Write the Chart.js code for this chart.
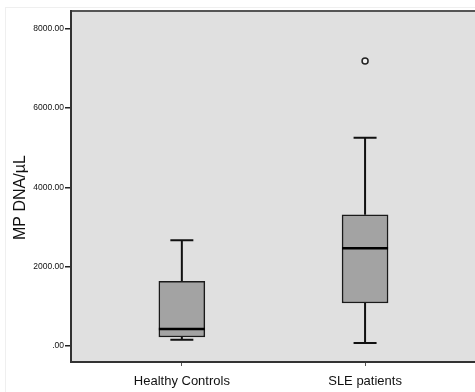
<!DOCTYPE html>
<html>
<head>
<meta charset="utf-8">
<script src="https://cdn.jsdelivr.net/npm/chart.js@4/dist/chart.umd.min.js"></script>
<style>
  html, body { margin: 0; padding: 0; background: #ffffff; overflow: hidden; }
  canvas { display: block; }
</style>
</head>
<body>
<canvas id="box-chart" width="475" height="392"></canvas>
<script>
// Box plot data (MP DNA per uL)
const categories = ['Healthy Controls', 'SLE patients'];
const whiskerLow = [152, 68];
const q1 = [220, 1078];
const median = [422, 2460];
const q3 = [1626, 3308];
const whiskerHigh = [2662, 5252];
const outliers = [[], [7189]];
const yTicks = [0, 2000, 4000, 6000, 8000];

// Build the datasets
const boxData = categories.map((c, i) => ({ x: i, y: [q1[i], q3[i]] }));
const outlierData = [];
outliers.forEach((list, i) => {
    list.forEach(v => outlierData.push({ x: i, y: v }));
});

// Plot background, frame, whiskers and medians
const boxPlotPlugin = {
    id: 'boxPlotPlugin',
    beforeDraw(chart) {
        const { ctx, chartArea } = chart;
        ctx.save();
        ctx.fillStyle = '#e0e0e0';
        ctx.fillRect(chartArea.left, chartArea.top, chartArea.right - chartArea.left, chartArea.bottom - chartArea.top);
        // faint outer frame of the figure
        ctx.strokeStyle = '#efefef';
        ctx.lineWidth = 1;
        ctx.strokeRect(5.5, 7.5, 480, 400);
        // top border of the plot
        ctx.strokeStyle = '#555555';
        ctx.lineWidth = 2;
        ctx.beginPath();
        ctx.moveTo(chartArea.left, chartArea.top);
        ctx.lineTo(chartArea.right, chartArea.top);
        ctx.stroke();
        ctx.restore();
    },
    beforeDatasetsDraw(chart) {
        const { ctx, scales } = chart;
        const x = scales.x, y = scales.y;
        ctx.save();
        ctx.strokeStyle = '#111111';
        ctx.lineWidth = 2;
        categories.forEach((c, i) => {
            const cx = x.getPixelForValue(i);
            ctx.beginPath();
            ctx.moveTo(cx, y.getPixelForValue(q3[i]));
            ctx.lineTo(cx, y.getPixelForValue(whiskerHigh[i]));
            ctx.moveTo(cx, y.getPixelForValue(q1[i]));
            ctx.lineTo(cx, y.getPixelForValue(whiskerLow[i]));
            // caps
            ctx.moveTo(cx - 11.5, y.getPixelForValue(whiskerHigh[i]));
            ctx.lineTo(cx + 11.5, y.getPixelForValue(whiskerHigh[i]));
            ctx.moveTo(cx - 11.5, y.getPixelForValue(whiskerLow[i]));
            ctx.lineTo(cx + 11.5, y.getPixelForValue(whiskerLow[i]));
            ctx.stroke();
        });
        ctx.restore();
    },
    afterDatasetsDraw(chart) {
        const { ctx, scales } = chart;
        const x = scales.x, y = scales.y;
        ctx.save();
        ctx.strokeStyle = '#000000';
        ctx.lineWidth = 2.5;
        categories.forEach((c, i) => {
            const cx = x.getPixelForValue(i);
            const my = y.getPixelForValue(median[i]);
            ctx.beginPath();
            ctx.moveTo(cx - 23, my);
            ctx.lineTo(cx + 23, my);
            ctx.stroke();
        });
        ctx.restore();
    }
};

const ctx = document.getElementById('box-chart');

new Chart(ctx, {
    type: 'bar',
    data: {
        datasets: [{
            label: 'IQR',
            data: boxData,
            backgroundColor: '#a3a3a3',
            borderColor: '#1a1a1a',
            borderWidth: 1.5,
            borderSkipped: false,
            barThickness: 46,
            order: 2
        }, {
            type: 'scatter',
            label: 'Outliers',
            data: outlierData,
            pointRadius: 3,
            pointBorderWidth: 1.5,
            pointBorderColor: '#222222',
            pointBackgroundColor: '#f2f2f2',
            order: 1
        }]
    },
    options: {
        responsive: false,
        animation: false,
        // plot runs off the right edge in the original, so push the area past it
        layout: { autoPadding: false, padding: { left: 7, top: 11, right: -4, bottom: 0 } },
        plugins: {
            legend: { display: false },
            tooltip: { enabled: false }
        },
        scales: {
            x: {
                type: 'linear',
                offset: false,
                min: -0.605,
                max: 1.600,
                afterBuildTicks(scale) {
                    scale.ticks = categories.map((c, i) => ({ value: i }));
                },
                afterFit(scale) {
                    scale.height = 30;
                },
                ticks: {
                    callback: (v) => categories[v],
                    color: '#111111',
                    padding: 8,
                    maxRotation: 0,
                    font: { family: "'Liberation Sans', Arial, sans-serif", size: 13 }
                },
                grid: {
                    drawOnChartArea: false,
                    offset: false,
                    tickLength: 4,
                    color: '#555555'
                },
                border: { color: '#333333', width: 2 }
            },
            y: {
                min: -412,
                max: 8454,
                afterBuildTicks(scale) {
                    scale.ticks = yTicks.map(v => ({ value: v }));
                },
                afterFit(scale) {
                    scale.width = 64;
                },
                ticks: {
                    callback: (v) => v === 0 ? '.00' : v.toFixed(2),
                    color: '#111111',
                    padding: 1,
                    font: { family: "'Liberation Sans', Arial, sans-serif", size: 8.5 }
                },
                grid: {
                    drawOnChartArea: false,
                    tickLength: 6,
                    color: '#222222',
                    lineWidth: 1.5
                },
                border: { color: '#333333', width: 2 },
                title: {
                    display: true,
                    // trailing spaces nudge the centred title down like the original
                    text: 'MP DNA/µL     ',
                    color: '#111111',
                    padding: { top: 4, bottom: 4 },
                    font: { family: "'Liberation Sans', Arial, sans-serif", size: 16 }
                }
            }
        }
    },
    plugins: [boxPlotPlugin]
});
</script>
</body>
</html>
